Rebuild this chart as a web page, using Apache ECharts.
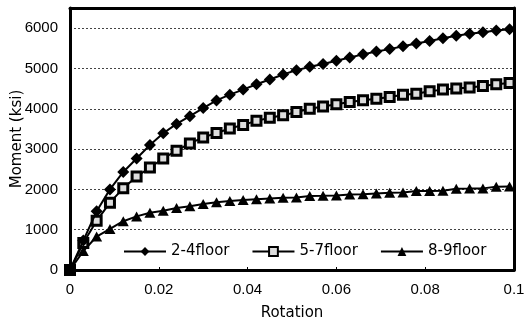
<!DOCTYPE html>
<html>
<head>
<meta charset="utf-8">
<script src="https://cdn.jsdelivr.net/npm/echarts@6/dist/echarts.min.js"></script>
<style>html,body{margin:0;padding:0;background:#fff;}#c{width:526px;height:327px;}</style>
</head>
<body>
<div id="c"></div>
<script>
var rotation = [0,0.003,0.006,0.009,0.012,0.015,0.018,0.021,0.024,0.027,0.030,0.033,0.036,0.039,0.042,0.045,0.048,0.051,0.054,0.057,0.060,0.063,0.066,0.069,0.072,0.075,0.078,0.081,0.084,0.087,0.090,0.093,0.096,0.099];
var floor24 = [0,730,1458,2000,2433,2767,3100,3392,3625,3817,4017,4208,4350,4475,4608,4725,4850,4958,5040,5110,5190,5270,5350,5420,5480,5550,5620,5680,5750,5810,5860,5900,5940,5975];
var floor57 = [0,670,1220,1670,2030,2320,2540,2767,2960,3140,3290,3400,3510,3600,3700,3775,3840,3917,4000,4058,4110,4167,4210,4250,4292,4350,4375,4433,4475,4500,4530,4567,4610,4640];
var floor89 = [0,470,830,1020,1210,1330,1420,1470,1540,1580,1640,1683,1710,1735,1755,1775,1792,1800,1833,1840,1850,1875,1880,1900,1917,1925,1958,1960,1965,2017,2020,2025,2067,2070];
var seriesNames = ['2-4floor','5-7floor','8-9floor'];
var xTicks = {min:0, max:0.1, interval:0.02};
var yTicks = {min:0, max:6500, interval:1000};

function pairs(ys){ return rotation.map(function(x,i){ return [x, ys[i]]; }); }

var chart = echarts.init(document.getElementById('c'), null, {renderer:'canvas'});
var tickFont = {color:'#000', fontFamily:'Liberation Sans, Arial, sans-serif', fontSize:15};
var nameFont = {color:'#000', fontFamily:'DejaVu Sans, sans-serif', fontSize:15};
var frameLine = {show:true, onZero:false, lineStyle:{color:'#000', width:3}};
chart.setOption({
  animation:false,
  backgroundColor:'#fff',
  grid:{left:70, right:12, top:8, bottom:57, containLabel:false, outerBoundsMode:'none', show:false},
  legend:{
    data:seriesNames, left:118, top:239, itemWidth:42, itemHeight:11, itemGap:22,
    textStyle:nameFont, inactiveColor:'#000'
  },
  xAxis:[{
    type:'value', min:xTicks.min, max:xTicks.max, interval:xTicks.interval, position:'bottom',
    name:'Rotation', nameLocation:'middle', nameGap:36, nameMoveOverlap:false, nameTextStyle:nameFont,
    axisLine:frameLine,
    axisTick:{show:true, inside:true, length:3, lineStyle:{color:'#000'}},
    axisLabel:Object.assign({margin:12, formatter:function(v){return String(+v.toFixed(3));}}, tickFont),
    splitLine:{show:false}
  },{
    type:'value', min:xTicks.min, max:xTicks.max, position:'top',
    axisLine:frameLine, axisTick:{show:false}, axisLabel:{show:false}, splitLine:{show:false}
  }],
  yAxis:[{
    type:'value', min:yTicks.min, max:yTicks.max, interval:yTicks.interval, position:'left',
    name:'Moment (ksi)', nameLocation:'middle', nameGap:45, nameMoveOverlap:false, nameTextStyle:nameFont,
    axisLine:frameLine,
    axisTick:{show:false},
    axisLabel:Object.assign({margin:12, showMaxLabel:false, formatter:function(v){return String(v);}}, tickFont),
    splitLine:{show:true, lineStyle:{color:'#444', width:1, type:[2,2]}}
  },{
    type:'value', min:yTicks.min, max:yTicks.max, position:'right',
    axisLine:frameLine, axisTick:{show:false}, axisLabel:{show:false}, splitLine:{show:false}
  }],
  series:[
    {name:seriesNames[0], type:'line', data:pairs(floor24), symbol:'diamond', symbolSize:12,
     lineStyle:{color:'#000', width:2}, itemStyle:{color:'#000'}, z:3},
    {name:seriesNames[1], type:'line', data:pairs(floor57), symbol:'rect', symbolSize:9,
     lineStyle:{color:'#000', width:2}, itemStyle:{color:'#ddd', borderColor:'#000', borderWidth:3}, z:2},
    {name:seriesNames[2], type:'line', data:pairs(floor89), symbol:'triangle', symbolSize:[11,10],
     lineStyle:{color:'#000', width:2}, itemStyle:{color:'#000'}, z:1}
  ]
});
</script>
</body>
</html>
